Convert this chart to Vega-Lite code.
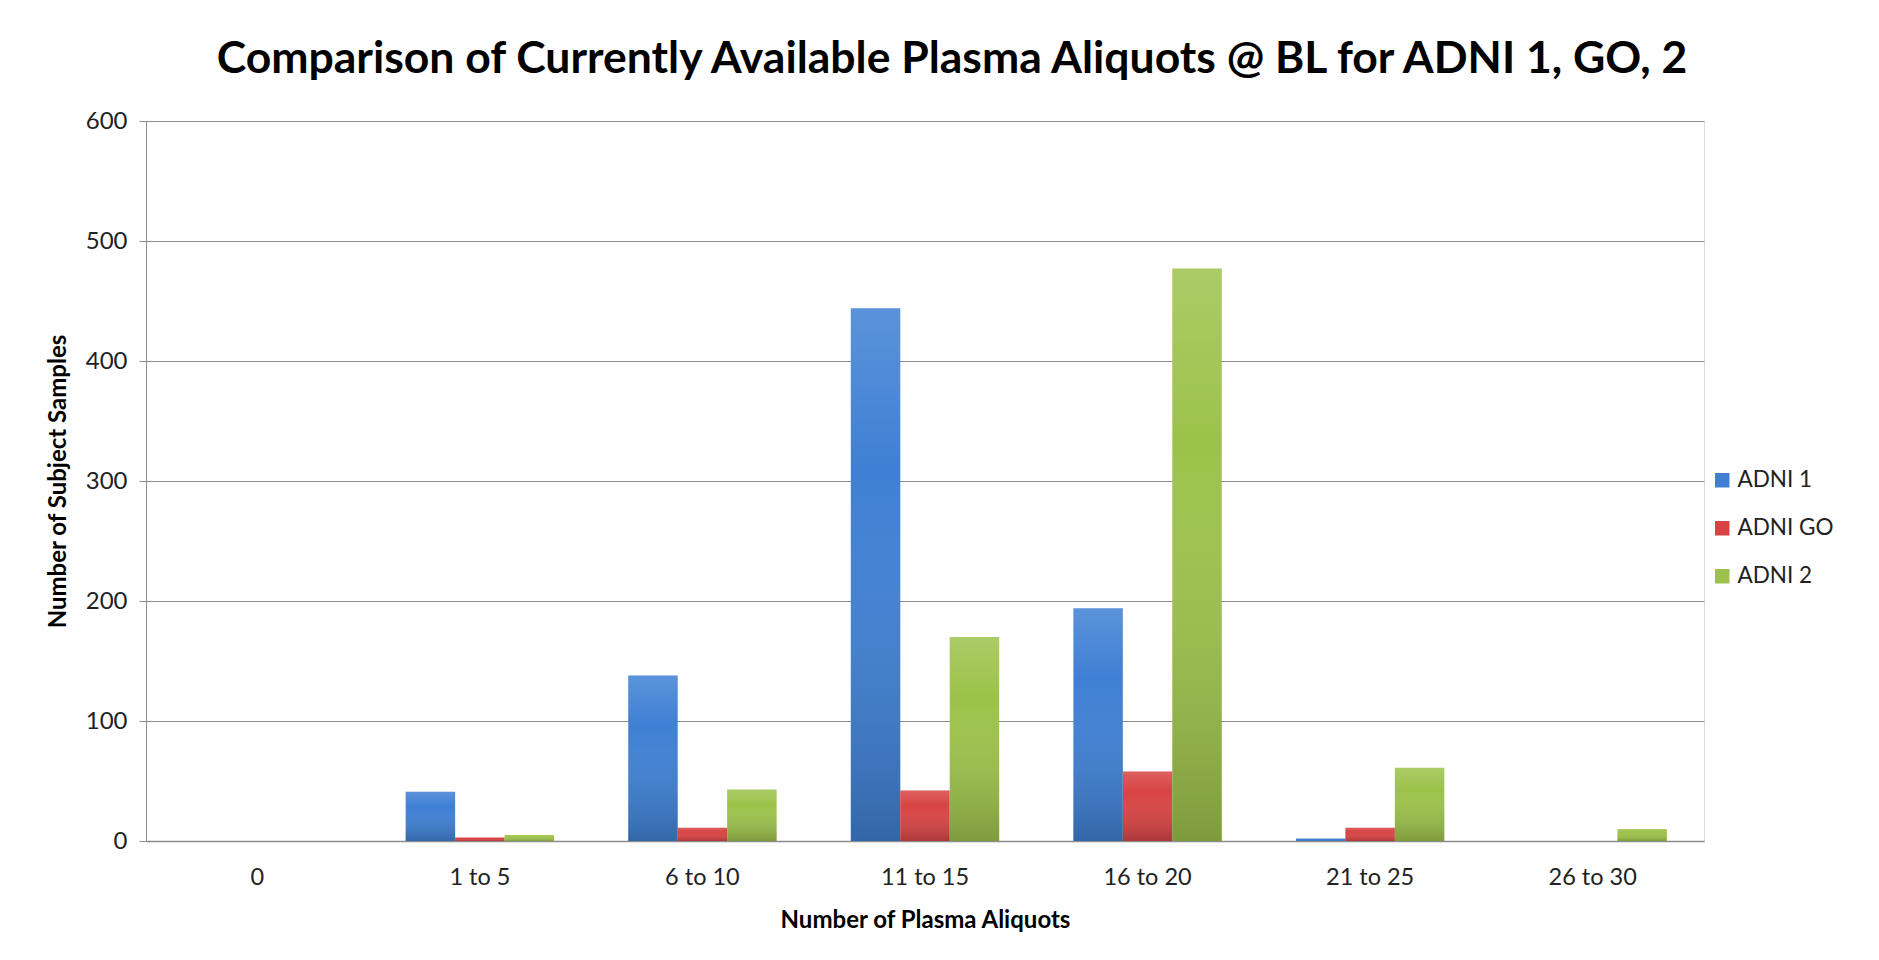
{
  "$schema": "https://vega.github.io/schema/vega-lite/v6.json",
  "width": 1558,
  "height": 720,
  "autosize": "none",
  "padding": {"left": 146, "top": 121, "right": 175, "bottom": 119},
  "background": "white",
  "title": {
    "text": "Comparison of Currently Available Plasma Aliquots @ BL for ADNI 1, GO, 2",
    "font": "Lato",
    "fontSize": 44.5,
    "fontWeight": "bold",
    "color": "#000000",
    "anchor": "middle",
    "dx": 27,
    "offset": 27
  },
  "data": {
    "values": [
      {"range": "0", "series": "ADNI 1", "count": 0},
      {"range": "0", "series": "ADNI GO", "count": 0},
      {"range": "0", "series": "ADNI 2", "count": 0},
      {"range": "1 to 5", "series": "ADNI 1", "count": 41},
      {"range": "1 to 5", "series": "ADNI GO", "count": 3},
      {"range": "1 to 5", "series": "ADNI 2", "count": 5},
      {"range": "6 to 10", "series": "ADNI 1", "count": 138},
      {"range": "6 to 10", "series": "ADNI GO", "count": 11},
      {"range": "6 to 10", "series": "ADNI 2", "count": 43},
      {"range": "11 to 15", "series": "ADNI 1", "count": 444},
      {"range": "11 to 15", "series": "ADNI GO", "count": 42},
      {"range": "11 to 15", "series": "ADNI 2", "count": 170},
      {"range": "16 to 20", "series": "ADNI 1", "count": 194},
      {"range": "16 to 20", "series": "ADNI GO", "count": 58},
      {"range": "16 to 20", "series": "ADNI 2", "count": 477},
      {"range": "21 to 25", "series": "ADNI 1", "count": 2},
      {"range": "21 to 25", "series": "ADNI GO", "count": 11},
      {"range": "21 to 25", "series": "ADNI 2", "count": 61},
      {"range": "26 to 30", "series": "ADNI 1", "count": 0},
      {"range": "26 to 30", "series": "ADNI GO", "count": 0},
      {"range": "26 to 30", "series": "ADNI 2", "count": 10}
    ]
  },
  "encoding": {
    "x": {
      "field": "range",
      "type": "nominal",
      "sort": ["0", "1 to 5", "6 to 10", "11 to 15", "16 to 20", "21 to 25", "26 to 30"],
      "scale": {"paddingInner": 0.3333, "paddingOuter": 0.1667},
      "axis": {
        "title": "Number of Plasma Aliquots",
        "titleFont": "Lato",
        "titleFontSize": 24,
        "titleFontWeight": "bold",
        "titleColor": "#000000",
        "titlePadding": 20,
        "labelAngle": 0,
        "labelFont": "Lato",
        "labelFontSize": 23.5,
        "labelColor": "#222222",
        "labelPadding": 24,
        "ticks": false,
        "domain": true,
        "domainColor": "#8c8c8c",
        "domainWidth": 1.5
      }
    },
    "xOffset": {
      "field": "series",
      "type": "nominal",
      "sort": ["ADNI 1", "ADNI GO", "ADNI 2"],
      "scale": {"paddingInner": 0, "paddingOuter": 0}
    },
    "y": {
      "field": "count",
      "type": "quantitative",
      "scale": {"domain": [0, 600]},
      "axis": {
        "title": "Number of Subject Samples",
        "titleFont": "Lato",
        "titleFontSize": 24,
        "titleFontWeight": "bold",
        "titleColor": "#000000",
        "titleX": -76,
        "titleY": 360,
        "values": [0, 100, 200, 300, 400, 500, 600],
        "labelFont": "Lato",
        "labelFontSize": 24,
        "labelColor": "#222222",
        "labelPadding": 12,
        "tickSize": 7,
        "tickColor": "#8c8c8c",
        "domainColor": "#8c8c8c",
        "grid": true,
        "gridColor": "#8c8c8c",
        "gridWidth": 1
      }
    }
  },
  "layer": [
    {
      "mark": {"type": "bar"},
      "encoding": {
        "color": {
          "field": "series",
          "type": "nominal",
          "sort": ["ADNI 1", "ADNI GO", "ADNI 2"],
          "scale": {"domain": ["ADNI 1", "ADNI GO", "ADNI 2"], "range": ["#3F80D4", "#D84444", "#9DC24B"]},
          "legend": {
            "title": null,
            "orient": "none",
            "legendX": 1565,
            "legendY": 348,
            "symbolType": "square",
            "symbolSize": 210,
            "symbolStrokeWidth": 0,
            "labelFont": "Lato",
            "labelFontSize": 22.5,
            "labelColor": "#222222",
            "labelOffset": 4,
            "rowPadding": 25
          }
        }
      }
    },
    {
      "mark": {
        "type": "bar",
        "color": {
          "gradient": "linear",
          "x1": 0, "y1": 0, "x2": 0, "y2": 1,
          "stops": [
            {"offset": 0, "color": "rgba(255,255,255,0.15)"},
            {"offset": 0.3, "color": "rgba(255,255,255,0.0)"},
            {"offset": 1, "color": "rgba(0,0,0,0.2)"}
          ]
        }
      },
      "encoding": {}
    }
  ]
}
